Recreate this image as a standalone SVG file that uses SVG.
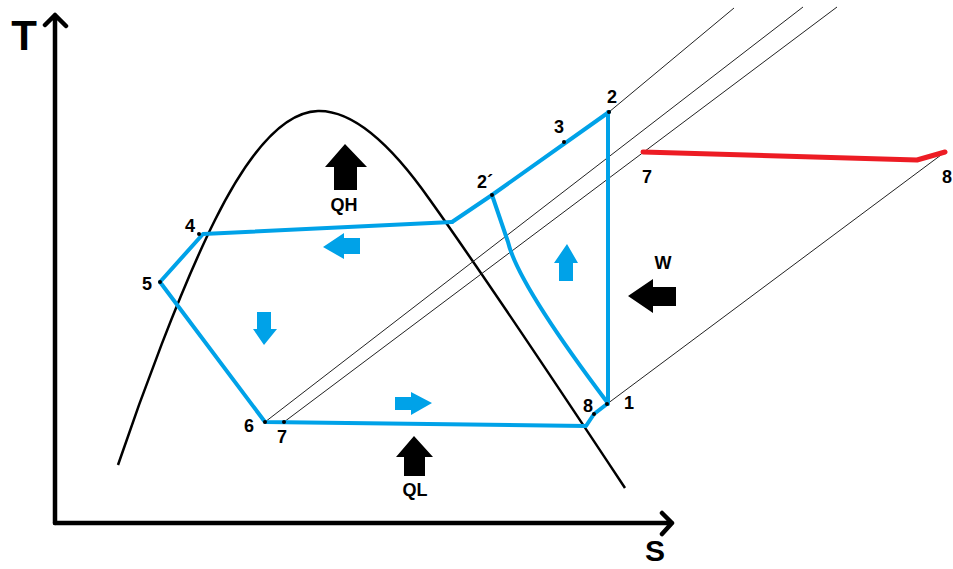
<svg xmlns="http://www.w3.org/2000/svg" width="953" height="569" viewBox="0 0 953 569">
<style>
.lbl{font-family:"Liberation Sans",Arial,sans-serif;font-weight:bold;font-size:18px;fill:#000;text-anchor:middle}
.axl{font-family:"Liberation Sans",Arial,sans-serif;font-weight:bold;fill:#000;text-anchor:middle}
.thin{stroke:#222;stroke-width:1;fill:none}
.cyc{stroke:#00a2e8;stroke-width:4;fill:none;stroke-linejoin:round;stroke-linecap:round}
.axis{stroke:#000;stroke-width:4.5;fill:none;stroke-linecap:round;stroke-linejoin:round}
.bar{fill:#000}
.barb{fill:#00a2e8}
.dot{fill:#000}
</style>
<rect width="953" height="569" fill="#fff"/>
<g id="axes">
<path class="axis" d="M55,523 L55,15 M45,25 L55,15 L66,26"/>
<path class="axis" d="M55,523 L672,523 M662,513 L672,523 L662,534"/>
<text class="axl" x="24" y="50" font-size="42">T</text>
<text class="axl" x="655" y="561" font-size="30">S</text>
</g>
<g id="dome">
<path d="M118,465 C140,400 180,290 215,220 C245,160 280,112 318,111 C355,110 395,150 430,200 C480,270 580,420 625,488" fill="none" stroke="#000" stroke-width="2.5"/>
</g>
<g id="connectors">
<path class="thin" d="M609,112 L734,8"/>
<path class="thin" d="M265,422 L803,7"/>
<path class="thin" d="M284,422 L837,7"/>
<path class="thin" d="M607,404 L945,152"/>
<path class="cyc" d="M452,222 L492,195 L609,112"/>
<path class="cyc" d="M608,112 L608,404"/>
<path class="cyc" d="M452,222 L203,234 L160,282 L265,422 L586,426 L594,414 L607,404"/>
<path class="cyc" d="M492,195 L508,242 Q518,284 607,402"/>
<path d="M643,152 L917,160 L945,152" fill="none" stroke="#ed1c24" stroke-width="5" stroke-linejoin="round" stroke-linecap="round"/>
</g>
<g id="points">
<circle class="dot" cx="609" cy="112" r="2"/>
<circle class="dot" cx="564" cy="142" r="2"/>
<circle class="dot" cx="492" cy="195" r="2"/>
<circle class="dot" cx="199" cy="234" r="2"/>
<circle class="dot" cx="160" cy="282" r="2"/>
<circle class="dot" cx="265" cy="422" r="2"/>
<circle class="dot" cx="284" cy="422" r="2"/>
<circle class="dot" cx="594" cy="414" r="2"/>
<circle class="dot" cx="607" cy="404" r="2"/>
</g>
<g id="labels">
<text class="lbl" x="612" y="103">2</text>
<text class="lbl" x="559" y="133">3</text>
<text class="lbl" x="485" y="188">2´</text>
<text class="lbl" x="190" y="232">4</text>
<text class="lbl" x="147" y="290">5</text>
<text class="lbl" x="249" y="432">6</text>
<text class="lbl" x="282" y="443">7</text>
<text class="lbl" x="588" y="412">8</text>
<text class="lbl" x="629" y="409">1</text>
<text class="lbl" x="647" y="183">7</text>
<text class="lbl" x="947" y="183">8</text>
</g>
<g id="QH">
<path class="bar" d="M345,144 L367,167 L357,167 L357,190 L334,190 L334,167 L325,167 Z"/>
<text class="lbl" x="344" y="211">QH</text>
</g>
<g id="QL">
<path class="bar" d="M414,436 L433,457 L425,457 L425,476 L404,476 L404,457 L396,457 Z"/>
<text class="lbl" x="415" y="496">QL</text>
</g>
<g id="W">
<path class="bar" d="M628,296 L653,279 L653,287 L676,287 L676,306 L653,306 L653,313 Z"/>
<text class="lbl" x="663" y="269">W</text>
</g>
<g id="flow-arrows">
<path class="barb" d="M323,247 L344,233 L344,238 L360,238 L360,254 L344,254 L344,259 Z"/>
<path class="barb" d="M264,345 L253,329 L257,329 L257,312 L271,312 L271,329 L277,329 Z"/>
<path class="barb" d="M432,403 L411,392 L411,397 L395,397 L395,410 L411,410 L411,415 Z"/>
<path class="barb" d="M567,244 L578,263 L573,263 L573,281 L559,281 L559,263 L554,263 Z"/>
</g>
</svg>
